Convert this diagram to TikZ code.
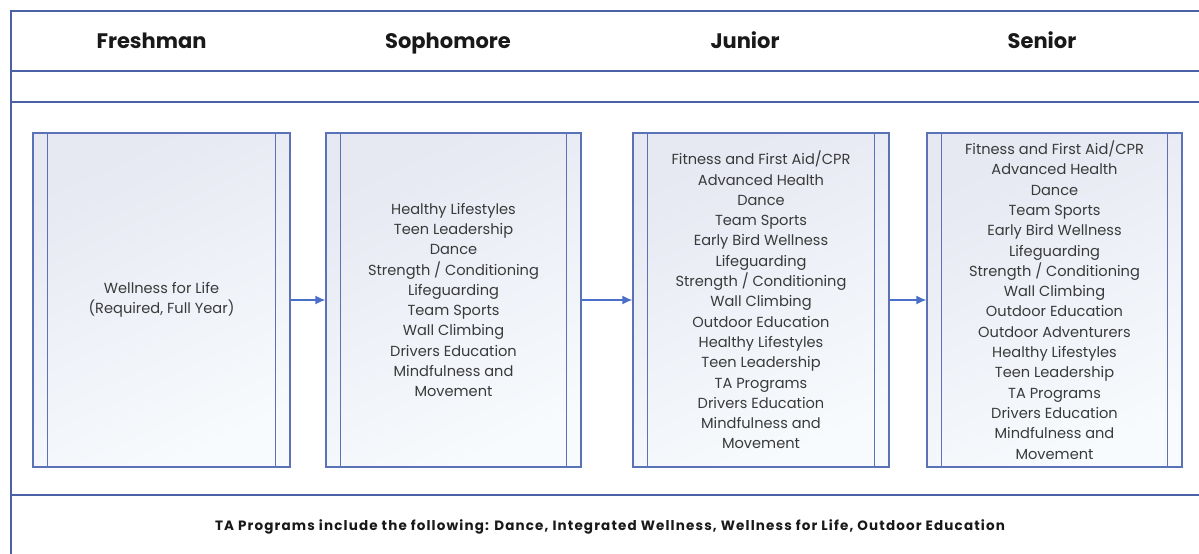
\documentclass[tikz,border=0pt]{standalone}
\usepackage{fontspec}
\setmainfont{Poppins}
\usetikzlibrary{arrows.meta}
\definecolor{frame}{HTML}{4A61A6}
\definecolor{boxline}{HTML}{5B72B9}
\definecolor{boxtop}{HTML}{E6E8F2}
\definecolor{boxbot}{HTML}{F7FBFD}
\definecolor{txt}{HTML}{3A3A3A}
\definecolor{arrowblue}{HTML}{4A6FC8}
\begin{document}
\begin{tikzpicture}[x=1pt,y=-1pt,
  frameline/.style={draw=frame,line width=2pt},
  yearbox/.style={draw=boxline,line width=1.3pt,top color=boxtop,bottom color=boxbot,shading angle=25,
    minimum height=334pt,inner sep=0pt,align=center,text=txt,font=\fontsize{14.6}{20.3}\selectfont},
  innerline/.style={draw=boxline,line width=1.3pt},
  header/.style={font=\fontsize{21}{24}\selectfont\bfseries,text=black!90,inner sep=0pt,anchor=base},
  footer/.style={font=\fontsize{13.5}{16}\selectfont\bfseries\addfontfeatures{LetterSpace=8.5},text=black!90,inner sep=0pt,anchor=base},
  arr/.style={draw=arrowblue,line width=1.3pt,-{Latex[length=10pt,width=9pt]}}]
\useasboundingbox (0,0) rectangle (1199,554);
\fill[white] (0,0) rectangle (1199,554);
% frame
\draw[frameline] (11,554) -- (11,11) -- (1199,11);
\draw[frameline] (11,71) -- (1199,71);
\draw[frameline] (11,102) -- (1199,102);
\draw[frameline] (11,495) -- (1199,495);
% headers
\node[header] (hf) at (151.5,48) {Freshman};
\node[header] (hs) at (448,48) {Sophomore};
\node[header] (hj) at (745,48) {Junior};
\node[header] (hn) at (1042,48) {Senior};
% boxes
\node[yearbox,minimum width=257pt] (fresh) at (161.5,300) {Wellness for Life\\(Required, Full Year)};
\node[yearbox,minimum width=255pt] (soph) at (453.5,300) {Healthy Lifestyles\\Teen Leadership\\Dance\\Strength / Conditioning\\Lifeguarding\\Team Sports\\Wall Climbing\\Drivers Education\\Mindfulness and\\Movement};
\node[yearbox,minimum width=256pt] (jun) at (761,300) {Fitness and First Aid/CPR\\Advanced Health\\Dance\\Team Sports\\Early Bird Wellness\\Lifeguarding\\Strength / Conditioning\\Wall Climbing\\Outdoor Education\\Healthy Lifestyles\\Teen Leadership\\TA Programs\\Drivers Education\\Mindfulness and\\Movement};
\node[yearbox,minimum width=255pt] (sen) at (1054.5,300) {Fitness and First Aid/CPR\\Advanced Health\\Dance\\Team Sports\\Early Bird Wellness\\Lifeguarding\\Strength / Conditioning\\Wall Climbing\\Outdoor Education\\Outdoor Adventurers\\Healthy Lifestyles\\Teen Leadership\\TA Programs\\Drivers Education\\Mindfulness and\\Movement};
% inner lines
\foreach \b in {fresh,soph,jun,sen}{
  \draw[innerline] ([xshift=15pt]\b.north west) -- ([xshift=15pt]\b.south west);
  \draw[innerline] ([xshift=-15pt]\b.north east) -- ([xshift=-15pt]\b.south east);
}
% arrows
\draw[arr] (fresh) -- (soph);
\draw[arr] (soph) -- (jun);
\draw[arr] (jun) -- (sen);
% footer
\node[footer] (foot) at (610,530) {TA Programs include the following: Dance, Integrated Wellness, Wellness for Life, Outdoor Education};
\end{tikzpicture}
\end{document}
